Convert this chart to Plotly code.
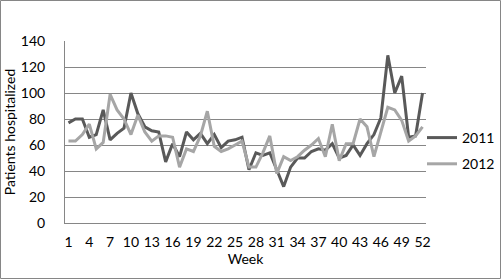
import plotly.graph_objects as go

weeks = list(range(1, 53))
cases_2011 = [77, 80, 80, 66, 68, 87, 64, 69, 73, 100, 84, 74, 71, 70, 47, 61,
              51, 70, 64, 69, 61, 68, 58, 63, 64, 66, 41, 54, 52, 54, 41, 28,
              43, 50, 50, 55, 57, 56, 61, 50, 52, 60, 52, 61, 68, 81, 129, 100,
              113, 66, 67, 100]
cases_2012 = [63, 63, 68, 76, 57, 62, 99, 87, 80, 68, 83, 70, 63, 67, 67, 66,
              43, 57, 55, 67, 86, 59, 55, 57, 60, 63, 43, 43, 54, 67, 38, 51,
              48, 51, 56, 60, 65, 51, 76, 48, 61, 61, 80, 74, 51, 70, 89, 87,
              79, 63, 67, 74]
tick_weeks = list(range(1, 53, 3))
y_ticks = [0, 20, 40, 60, 80, 100, 120, 140]

W, H = 501, 279
L, R, T, B = 65, 426, 41, 223
pw, ph = R - L, B - T

fig = go.Figure()
fig.add_trace(go.Scatter(x=weeks, y=cases_2011, mode="lines", name="2011",
                         legendgroup="a",
                         line=dict(color="#595959", width=3)))
fig.add_trace(go.Scatter(x=weeks, y=cases_2012, mode="lines", name="2012",
                         legendgroup="b",
                         line=dict(color="#a6a6a6", width=3)))

font = "Lato, 'Open Sans', sans-serif"
fig.update_layout(
    width=W, height=H,
    margin=dict(l=L, r=W - R, t=T, b=H - B, pad=0, autoexpand=False),
    paper_bgcolor="white", plot_bgcolor="white",
    font=dict(family=font, size=14, color="black"),
    showlegend=True,
    legend=dict(x=(422 - L) / pw, y=(B - 122) / ph, xanchor="left", yanchor="top",
                font=dict(size=14), tracegroupgap=5, traceorder="grouped",
                itemwidth=30, bgcolor="rgba(0,0,0,0)"),
    xaxis=dict(range=[0.5, 52.5], tickmode="array", tickvals=tick_weeks,
               ticktext=[str(t) for t in tick_weeks], showgrid=False,
               showline=True, linecolor="#868686", linewidth=1,
               ticks="", zeroline=False, ticklabelstandoff=6,
               title=dict(text="Week", font=dict(size=14), standoff=4),
               tickfont=dict(size=14)),
    yaxis=dict(range=[0, 140], tickmode="array", tickvals=y_ticks,
               showgrid=True, gridcolor="#868686", gridwidth=1,
               showline=True, linecolor="#868686", linewidth=1,
               ticks="", zeroline=False, ticklabelstandoff=16,
               title=dict(text="Patients hospitalized", font=dict(size=14), standoff=1),
               tickfont=dict(size=14)),
)

fig.add_shape(type="rect", xref="paper", yref="paper",
              x0=(0.5 - L) / pw, x1=(W - 0.5 - L) / pw,
              y0=(B - (H - 0.5)) / ph, y1=(B - 0.5) / ph,
              line=dict(color="#868686", width=1), fillcolor="rgba(0,0,0,0)",
              layer="below")

fig.write_html("out.html",
               config={"displayModeBar": False},
               post_script="document.body.style.margin='0';document.body.style.overflow='hidden';")
